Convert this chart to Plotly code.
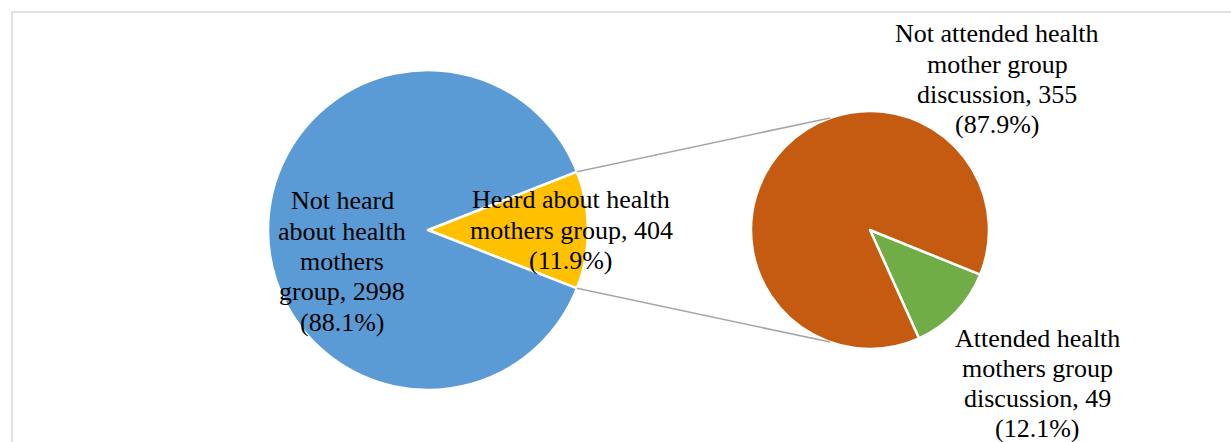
import math
import plotly.graph_objects as go

# ---- data ----
outer_labels = ["Heard about health mothers group", "Not heard about health mothers group"]
outer_values = [404, 2998]
inner_labels = ["Attended health mothers group discussion", "Not attended health mother group discussion"]
inner_values = [49, 355]

outer_colors = ["#FFC000", "#5B9BD5"]
inner_colors = ["#70AD47", "#C55A11"]

W, H = 1231, 442
FONT = "'Liberation Serif', 'Times New Roman', 'DejaVu Serif', serif"
FONT_SIZE = 26
LINE_STEP = 30.3

# geometry in pixels (layout only)
L_cx, L_cy, L_r = 428, 230, 160
R_cx, R_cy, R_r = 870, 230, 119

def px(x):
    return x / W

def py(y):
    return 1 - y / H

outer_total = sum(outer_values)
inner_total = sum(inner_values)
half_angle = 0.5 * outer_values[0] / outer_total * 360.0

fig = go.Figure()
fig.add_trace(go.Pie(
    labels=outer_labels, values=outer_values, sort=False, direction="clockwise",
    rotation=90 - half_angle,
    marker=dict(colors=outer_colors, line=dict(color="white", width=2.5)),
    textinfo="none", hoverinfo="skip",
    domain=dict(x=[px(L_cx - L_r), px(L_cx + L_r)], y=[py(L_cy + L_r), py(L_cy - L_r)]),
))
fig.add_trace(go.Pie(
    labels=inner_labels, values=inner_values, sort=False, direction="clockwise",
    rotation=112,
    marker=dict(colors=inner_colors, line=dict(color="white", width=2.5)),
    textinfo="none", hoverinfo="skip",
    domain=dict(x=[px(R_cx - R_r), px(R_cx + R_r)], y=[py(R_cy + R_r), py(R_cy - R_r)]),
))

# connector lines from the slice corners to the secondary pie
phi = math.radians(19.6)
for s in (-1, 1):
    x0 = L_cx + L_r * math.cos(math.radians(half_angle))
    y0 = L_cy + s * L_r * math.sin(math.radians(half_angle))
    x1 = R_cx - R_r * math.sin(phi)
    y1 = R_cy + s * R_r * math.cos(phi)
    fig.add_shape(type="line", xref="paper", yref="paper",
                  x0=px(x0), y0=py(y0), x1=px(x1), y1=py(y1),
                  line=dict(color="#A6A6A6", width=1.5))

# chart frame
fig.add_shape(type="rect", xref="paper", yref="paper",
              x0=px(12), y0=py(12), x1=1.05, y1=-0.05,
              line=dict(color="#D9D9D9", width=1.5))

def pct(v, t):
    return f"({v / t * 100:.1f}%)"

label_lines = [
    (["Not heard", "about health", "mothers", "group, %d" % outer_values[1],
      pct(outer_values[1], outer_total)], 342, 201),
    (["Heard about health", "mothers group, %d" % outer_values[0],
      pct(outer_values[0], outer_total)], 571, 200),
    (["Not attended health", "mother group", "discussion, %d" % inner_values[1],
      pct(inner_values[1], inner_total)], 997, 34),
    (["Attended health", "mothers group", "discussion, %d" % inner_values[0],
      pct(inner_values[0], inner_total)], 1037, 338),
]
for lines, x, y0 in label_lines:
    for i, line in enumerate(lines):
        fig.add_annotation(text=line, xref="paper", yref="paper",
                           x=px(x), y=py(y0 + i * LINE_STEP),
                           xanchor="center", yanchor="middle", showarrow=False,
                           font=dict(family=FONT, size=FONT_SIZE, color="#000000"))

fig.update_layout(
    width=W, height=H, margin=dict(l=0, r=0, t=0, b=0),
    paper_bgcolor="white", plot_bgcolor="white", showlegend=False,
)

fig.write_html("out.html")
